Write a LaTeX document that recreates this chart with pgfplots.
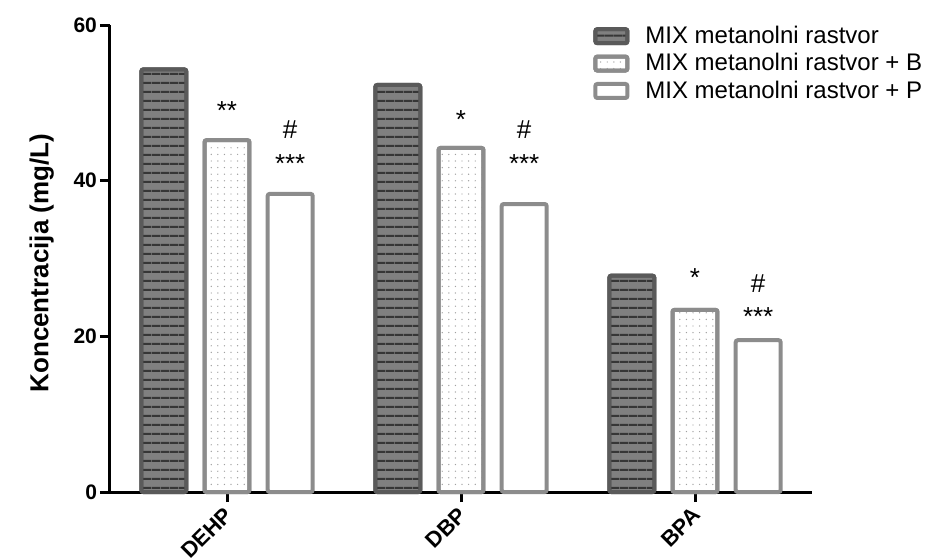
\documentclass[border=0pt]{standalone}
\usepackage{pgfplots}
\pgfplotsset{compat=1.18}
\usepackage{fontspec}
\setmainfont{Liberation Sans}
\usetikzlibrary{patterns.meta}
\definecolor{darkfill}{HTML}{808080}
\definecolor{darkline}{HTML}{363636}
\definecolor{darkedge}{HTML}{5A5A5A}
\definecolor{lightedge}{HTML}{8C8C8C}
\definecolor{dotcol}{HTML}{A0A0A0}
\begin{document}
\begin{tikzpicture}
\useasboundingbox (-55pt,-32.5pt) rectangle (407.5pt,246pt);
\begin{axis}[
  at={(0,0)}, anchor=south west,
  scale only axis, width=351pt, height=233.5pt,
  xmin=-0.5, xmax=2.5, ymin=0, ymax=60,
  axis x line=bottom, axis y line=left,
  axis line style={line width=1.5pt, -},
  xtick={0,1,2}, xticklabels={DEHP,DBP,BPA},
  ytick={0,20,40,60},
  tick align=outside, major tick length=5pt,
  tick style={line width=1.5pt, black},
  /pgf/number format/assume math mode=true,
  yticklabel style={font=\bfseries\fontsize{10.5}{12}\selectfont, xshift=2pt},
  xticklabel style={font=\bfseries\fontsize{11}{13}\selectfont, xshift=-2pt, yshift=-1pt, rotate=45, anchor=north east, inner sep=0.5pt},
  ylabel={Koncentracija (mg/L)},
  every axis y label/.style={at={(ticklabel cs:0.49)}, rotate=90, anchor=south, yshift=3pt, font=\bfseries\fontsize{13}{15}\selectfont},
  ybar, bar width=0.192,
  legend cell align=left,
  legend image code/.code={\draw[#1, rounded corners=1pt] (0pt,-3.5pt) rectangle (16pt,3.5pt);},
  legend style={draw=none, fill=none, at={(0.688,1.003)}, anchor=north west,
    font=\fontsize{12}{14}\selectfont, row sep=1.5pt, inner sep=0pt,
    nodes={inner sep=1pt}, /tikz/every odd column/.append style={column sep=7pt}},
  clip=false,
]
\addplot[bar shift=-0.27, draw=darkedge, line width=2pt, fill=darkfill, rounded corners=1pt,
  postaction={pattern={Lines[angle=0, distance=4.35pt, line width=1pt]}, pattern color=darkline}]
  coordinates {(0,54.3) (1,52.3) (2,27.8)};
\addplot[bar shift=0, draw=lightedge, line width=2pt, fill=white, rounded corners=1pt,
  postaction={pattern={Dots[distance=3.3pt, radius=0.35pt]}, pattern color=dotcol}]
  coordinates {(0,45.2) (1,44.2) (2,23.4)};
\addplot[bar shift=0.27, draw=lightedge, line width=2pt, fill=white, rounded corners=1pt]
  coordinates {(0,38.3) (1,37.0) (2,19.5)};
\legend{MIX metanolni rastvor, MIX metanolni rastvor + B, MIX metanolni rastvor + P}
\begin{scope}[every node/.style={font=\fontsize{13}{15}\selectfont, inner sep=0pt}]
\node at (axis cs:0,49.0) {**};
\node at (axis cs:0.27,46.5) {\#};
\node at (axis cs:0.27,42.2) {***};
\node at (axis cs:1,47.8) {*};
\node at (axis cs:1.27,46.5) {\#};
\node at (axis cs:1.27,42.2) {***};
\node at (axis cs:2,27.6) {*};
\node at (axis cs:2.27,26.8) {\#};
\node at (axis cs:2.27,22.6) {***};
\end{scope}
\end{axis}
\end{tikzpicture}
\end{document}
